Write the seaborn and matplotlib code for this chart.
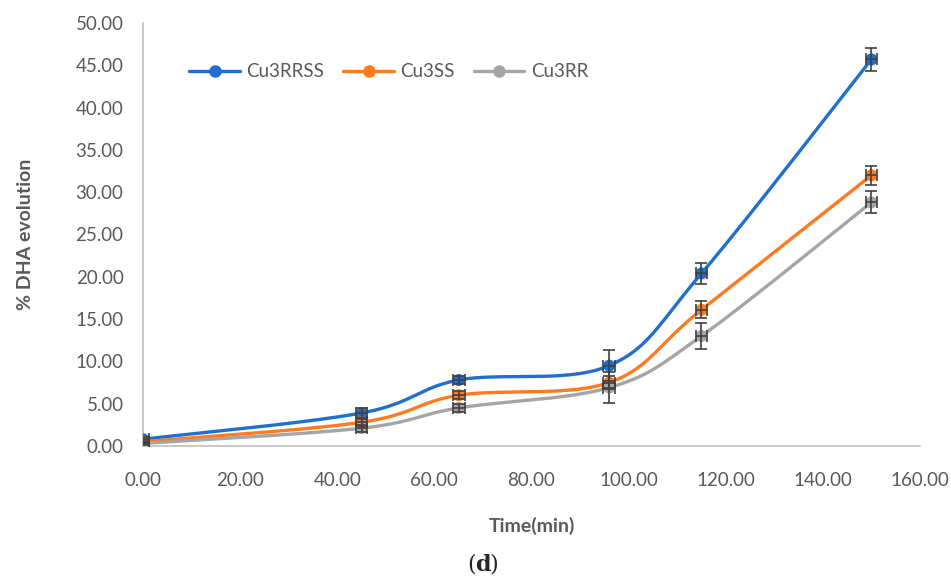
import numpy as np
import pandas as pd
import matplotlib
matplotlib.use("Agg")
import matplotlib.pyplot as plt
from matplotlib.lines import Line2D
import seaborn as sns

# Reaction time (min)
time_min = [0, 45, 65, 96, 115, 150]

# % DHA evolution for each catalyst
cu3rrss = [0.8, 3.9, 7.8, 9.5, 20.4, 45.7]
cu3ss = [0.5, 2.8, 6.0, 7.5, 16.1, 32.0]
cu3rr = [0.3, 2.1, 4.5, 6.9, 13.0, 28.8]

# Standard deviations
cu3rrss_err = [0.3, 0.6, 0.5, 1.8, 1.2, 1.4]
cu3ss_err = [0.2, 0.4, 0.5, 0.8, 1.0, 1.1]
cu3rr_err = [0.2, 0.4, 0.5, 1.8, 1.5, 1.3]

series_names = ["Cu3RRSS", "Cu3SS", "Cu3RR"]
x_ticks = [0, 20, 40, 60, 80, 100, 120, 140, 160]
y_ticks = [0, 5, 10, 15, 20, 25, 30, 35, 40, 45, 50]

colors = {"Cu3RRSS": "#1f6fd0", "Cu3SS": "#ff7a1f", "Cu3RR": "#a5a5a5"}
TEXT = "#595959"


def smooth_curve(xs, ys, n=40):
    """Cubic Bezier smoothing through every point (spreadsheet-style smoothed line)."""
    pts = np.column_stack([xs, ys]).astype(float)
    padded = np.vstack([pts[0], pts, pts[-1]])
    out = []
    t = np.linspace(0, 1, n)[:, None]
    for i in range(len(pts) - 1):
        p0, p1 = padded[i + 1], padded[i + 2]
        c1 = p0 + (padded[i + 2] - padded[i]) / 6.0
        c2 = p1 - (padded[i + 3] - padded[i + 1]) / 6.0
        seg = ((1 - t) ** 3) * p0 + 3 * ((1 - t) ** 2) * t * c1 \
            + 3 * (1 - t) * t ** 2 * c2 + t ** 3 * p1
        out.append(seg if i == 0 else seg[1:])
    return np.vstack(out)


values = {"Cu3RRSS": cu3rrss, "Cu3SS": cu3ss, "Cu3RR": cu3rr}
errors = {"Cu3RRSS": cu3rrss_err, "Cu3SS": cu3ss_err, "Cu3RR": cu3rr_err}

curve_frames = []
for name in series_names:
    c = smooth_curve(time_min, values[name])
    curve_frames.append(pd.DataFrame({"x": c[:, 0], "y": c[:, 1], "series": name}))
curves = pd.concat(curve_frames, ignore_index=True)

points = pd.DataFrame({
    "x": np.tile(time_min, 3),
    "y": cu3rrss + cu3ss + cu3rr,
    "series": np.repeat(series_names, len(time_min)),
})

sns.set_theme(style="white")
plt.rcParams["font.family"] = ["Lato", "DejaVu Sans"]

fig = plt.figure(figsize=(9.51, 5.78), dpi=100)
ax = fig.add_axes([0.1504, 0.2284, 0.8170, 0.7318])

sns.lineplot(data=curves, x="x", y="y", hue="series", hue_order=series_names,
             palette=colors, sort=False, estimator=None,
             linewidth=2.4, legend=False, ax=ax, zorder=2)

sns.scatterplot(data=points, x="x", y="y", hue="series", hue_order=series_names,
                palette=colors, s=75, marker="o", edgecolor="none",
                legend=False, ax=ax, zorder=3)

for name in series_names:
    ax.errorbar(time_min, values[name], yerr=errors[name],
                xerr=[1.2] * len(time_min), fmt="none", ecolor="#404040",
                elinewidth=1.2, capsize=4, capthick=1.2, zorder=4)

ax.set_xlim(0, 160)
ax.set_ylim(0, 50)
ax.set_xticks(x_ticks)
ax.set_yticks(y_ticks)
ax.set_xticklabels([f"{v:.2f}" for v in x_ticks])
ax.set_yticklabels([f"{v:.2f}" for v in y_ticks])
ax.tick_params(axis="both", length=0, labelsize=13.5, labelcolor=TEXT)
ax.tick_params(axis="x", pad=19)
ax.tick_params(axis="y", pad=14)

for side in ["top", "right"]:
    ax.spines[side].set_visible(False)
for side in ["left", "bottom"]:
    ax.spines[side].set_color("#bfbfbf")
    ax.spines[side].set_linewidth(1.2)

ax.set_xlabel("Time(min)", fontsize=14, fontweight="bold", color=TEXT, labelpad=20)
ax.set_ylabel("% DHA evolution", fontsize=14, fontweight="bold", color=TEXT, labelpad=30)

handles = [Line2D([0], [0], color=colors[n], lw=2.4, marker="o", markersize=8)
           for n in series_names]
ax.legend(handles, series_names, loc="upper left", bbox_to_anchor=(0.038, 0.945),
          ncol=3, frameon=False, fontsize=13.5, labelcolor=TEXT,
          handlelength=2.7, columnspacing=1.0, handletextpad=0.35)

fig.text(0.5, 0.004, "(", fontsize=16, family="DejaVu Serif", ha="right", va="bottom")
fig.text(0.5, 0.004, "d", fontsize=16, family="DejaVu Serif", fontweight="bold",
         ha="left", va="bottom")
fig.text(0.5145, 0.004, ")", fontsize=16, family="DejaVu Serif", ha="left", va="bottom")

fig.savefig("out.png", dpi=100)
